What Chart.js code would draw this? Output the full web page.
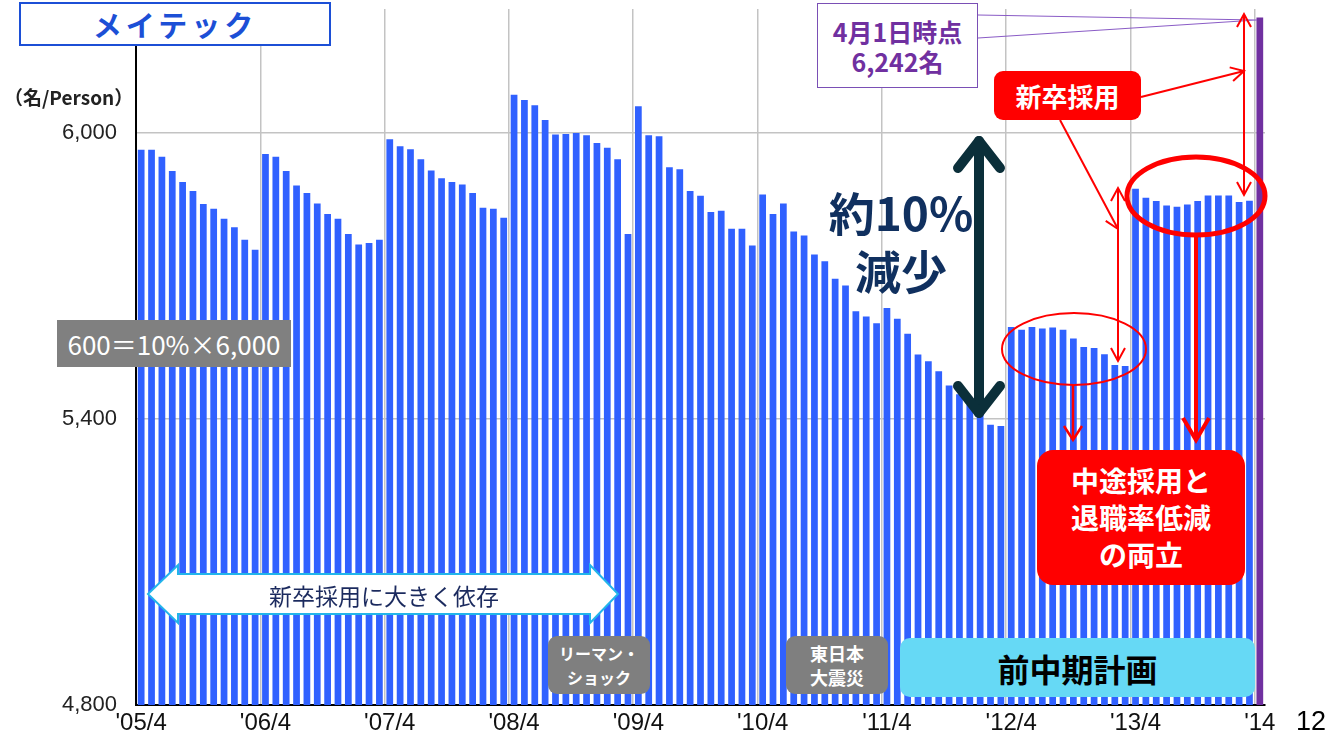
<!DOCTYPE html>
<html lang="ja">
<head>
<meta charset="utf-8">
<title>メイテック 社員数推移</title>
<script src="https://cdn.jsdelivr.net/npm/chart.js@4.4.1/dist/chart.umd.min.js"></script>
<style>
  body { margin: 0; background: #fff; }
  #wrap { position: relative; width: 1327px; height: 740px; overflow: hidden; font-family: "Noto Sans CJK JP", "Noto Sans", sans-serif; }
  #chart { position: absolute; left: 0; top: 0; }
  .note { position: absolute; box-sizing: border-box; display: flex; flex-direction: column; align-items: center; justify-content: center; text-align: center; white-space: nowrap; }
  #title { left: 19px; top: 2px; width: 312px; height: 44px; border: 2px solid #1c4fd6; background: #fff; color: #1c4fd6; font-weight: bold; font-size: 29px; letter-spacing: 4px; }
  #unit { left: 4px; top: 82px; height: 28px; font-size: 19px; font-weight: bold; color: #222; }
  #ratio { left: 57px; top: 320px; width: 234px; height: 47px; background: #808080; color: #fff; font-size: 26px; }
  #depend { left: 178px; top: 575px; width: 412px; height: 39px; color: #1b2a5e; font-size: 23px; }
  .grey { background: #7f7f7f; color: #fff; border-radius: 9px; font-weight: bold; line-height: 24px; }
  #lehman { left: 548px; top: 636px; width: 102px; height: 58px; font-size: 16px; }
  #quake { left: 786px; top: 636px; width: 102px; height: 58px; font-size: 18px; }
  #plan { left: 900px; top: 638px; width: 355px; height: 59px; background: #66d9f5; border-radius: 10px; font-size: 32px; font-weight: bold; color: #000; }
  #asof { left: 817px; top: 3px; width: 161px; height: 85px; border: 1.5px solid #7a4fb5; background: #fff; color: #7030a0; font-size: 25px; font-weight: bold; line-height: 30px; }
  #newgrad { left: 994px; top: 71px; width: 147px; height: 49px; background: #ff0000; border-radius: 9px; color: #fff; font-size: 26px; font-weight: bold; }
  #midcareer { left: 1037px; top: 450px; width: 208px; height: 135px; background: #ff0000; border-radius: 16px; color: #fff; font-size: 28px; font-weight: bold; line-height: 37px; }
  #cut { left: 826px; top: 182px; width: 150px; color: #10305f; font-size: 46px; font-weight: bold; line-height: 58px; }
  #page { left: 1296px; top: 706px; font-family: "Liberation Sans", sans-serif; font-size: 27px; color: #000; }
</style>
</head>
<body>
<div id="wrap">
  <canvas id="chart" width="1327" height="740"></canvas>
  <div class="note" id="title">メイテック</div>
  <div class="note" id="unit">（名/Person）</div>
  <div class="note" id="ratio">600＝10%×6,000</div>
  <div class="note" id="depend">新卒採用に大きく依存</div>
  <div class="note grey" id="lehman"><span>リーマン・</span><span>ショック</span></div>
  <div class="note grey" id="quake"><span>東日本</span><span>大震災</span></div>
  <div class="note" id="plan">前中期計画</div>
  <div class="note" id="asof"><span>4月1日時点</span><span>6,242名</span></div>
  <div class="note" id="newgrad">新卒採用</div>
  <div class="note" id="midcareer"><span>中途採用と</span><span>退職率低減</span><span>の両立</span></div>
  <div class="note" id="cut"><span>約10%</span><span>減少</span></div>
  <div class="note" id="page">12</div>
</div>
<script>
// Monthly headcount, April of each fiscal year through March
const fy2005 = [5965, 5965, 5950, 5920, 5897, 5878, 5851, 5841, 5820, 5802, 5776, 5755];
const fy2006 = [5956, 5950, 5920, 5890, 5874, 5852, 5830, 5820, 5788, 5766, 5769, 5776];
const fy2007 = [5987, 5972, 5966, 5945, 5921, 5905, 5897, 5892, 5874, 5843, 5841, 5822];
const fy2008 = [6080, 6069, 6058, 6027, 5997, 5998, 6000, 5995, 5979, 5969, 5945, 5788];
const fy2009 = [6056, 5995, 5993, 5928, 5924, 5878, 5868, 5834, 5837, 5799, 5799, 5764];
const fy2010 = [5871, 5830, 5852, 5793, 5785, 5745, 5731, 5694, 5680, 5626, 5615, 5601];
const fy2011 = [5633, 5610, 5579, 5535, 5521, 5500, 5470, 5452, 5430, 5410, 5388, 5385];
const fy2012 = [5593, 5587, 5593, 5590, 5592, 5587, 5569, 5551, 5549, 5536, 5513, 5511];
const fy2013 = [5883, 5864, 5857, 5848, 5845, 5850, 5857, 5869, 5869, 5869, 5855, 5858];
const fy2014 = [6242];

const years = [2005, 2006, 2007, 2008, 2009, 2010, 2011, 2012, 2013, 2014];
const tickLabels = ["'05/4", "'06/4", "'07/4", "'08/4", "'09/4", "'10/4", "'11/4", "'12/4", "'13/4", "'14"];
const yTicks = [4800, 5400, 6000];

const headcount = [].concat(fy2005, fy2006, fy2007, fy2008, fy2009, fy2010, fy2011, fy2012, fy2013, fy2014);

// one category per month, starting at April 2005
const months = [];
years.forEach(function(y) {
    for (let m = 0; m < 12; m++) {
        const mon = ((m + 3) % 12) + 1;
        const yr = m < 9 ? y : y + 1;
        months.push(yr + '/' + mon);
    }
});
months.length = headcount.length;

const BLUE = '#3061ff';
const PURPLE = '#7030a0';
const RED = '#ff0000';

function head(c, fx, fy, tx, ty, len, half, fill) {
    const a = Math.atan2(ty - fy, tx - fx);
    const bx = tx - len * Math.cos(a), by = ty - len * Math.sin(a);
    const px = -Math.sin(a) * half, py = Math.cos(a) * half;
    c.beginPath();
    c.moveTo(bx + px, by + py);
    c.lineTo(tx, ty);
    c.lineTo(bx - px, by - py);
    if (fill) { c.closePath(); c.fill(); } else { c.stroke(); }
}

function arrow(c, x1, y1, x2, y2, o) {
    c.save();
    c.strokeStyle = o.color;
    c.fillStyle = o.color;
    c.lineWidth = o.width;
    c.lineCap = o.cap || 'butt';
    c.lineJoin = o.cap === 'round' ? 'round' : 'miter';
    c.beginPath();
    c.moveTo(x1, y1);
    c.lineTo(x2, y2);
    c.stroke();
    head(c, x1, y1, x2, y2, o.len, o.half, o.fill);
    if (o.both) head(c, x2, y2, x1, y1, o.len, o.half, o.fill);
    c.restore();
}

function ellipse(c, cx, cy, rx, ry, w) {
    c.save();
    c.strokeStyle = RED;
    c.lineWidth = w;
    c.beginPath();
    c.ellipse(cx, cy, rx, ry, 0, 0, Math.PI * 2);
    c.stroke();
    c.restore();
}

// slide annotations drawn on top of the bars
const overlay = {
    id: 'overlay',
    afterDatasetsDraw: function(chart) {
        const c = chart.ctx;

        // white double arrow
        c.save();
        c.beginPath();
        c.moveTo(148, 594);
        c.lineTo(178, 565); c.lineTo(178, 574); c.lineTo(590, 574); c.lineTo(590, 565);
        c.lineTo(618, 594);
        c.lineTo(590, 623); c.lineTo(590, 614); c.lineTo(178, 614); c.lineTo(178, 623);
        c.closePath();
        c.fillStyle = '#fff';
        c.fill();
        c.strokeStyle = '#22b5ea';
        c.lineWidth = 2;
        c.stroke();
        c.restore();

        // 10% drop arrow
        arrow(c, 979, 141, 979, 413, { color: '#0b2f3a', width: 10, cap: 'round', len: 27, half: 21, both: true });

        // callout lines to the last bar
        c.save();
        c.strokeStyle = '#8a5cc6';
        c.lineWidth = 1.2;
        c.beginPath();
        c.moveTo(978, 15); c.lineTo(1257, 20);
        c.moveTo(978, 38); c.lineTo(1257, 20);
        c.stroke();
        c.restore();

        // red marks
        ellipse(c, 1074, 349, 72, 36, 2);
        ellipse(c, 1196, 196, 69, 39, 5);
        arrow(c, 1141, 97, 1244, 71, { color: RED, width: 2, len: 13, half: 7 });
        arrow(c, 1060, 120, 1118, 229, { color: RED, width: 2, len: 13, half: 7 });
        arrow(c, 1118, 188, 1118, 361, { color: RED, width: 2, len: 13, half: 7, both: true });
        arrow(c, 1244, 14, 1244, 195, { color: RED, width: 2, len: 13, half: 7, both: true });
        arrow(c, 1073, 385, 1073, 440, { color: RED, width: 2.5, len: 14, half: 9 });
        arrow(c, 1196, 234, 1196, 440, { color: RED, width: 4, len: 22, half: 13 });
    }
};

new Chart(document.getElementById('chart'), {
    type: 'bar',
    data: {
        labels: months,
        datasets: [{
            data: headcount,
            backgroundColor: function(ctx) {
                return ctx.dataIndex === headcount.length - 1 ? PURPLE : BLUE;
            },
            barPercentage: 0.65,
            categoryPercentage: 1
        }]
    },
    options: {
        responsive: false,
        animation: false,
        devicePixelRatio: 1,
        layout: { padding: { top: 9, right: 62, left: 0, bottom: 0 } },
        plugins: {
            legend: { display: false },
            tooltip: { enabled: false }
        },
        scales: {
            x: {
                offset: true,
                afterFit: function(scale) {
                    scale.height = 35;
                },
                grid: {
                    offset: true,
                    drawTicks: false,
                    color: function(ctx) {
                        return ctx.index % 12 === 0 ? '#c3c3c3' : 'rgba(0,0,0,0)';
                    },
                    lineWidth: 1.5
                },
                border: { color: '#000', width: 2 },
                ticks: {
                    autoSkip: false,
                    maxRotation: 0,
                    padding: 4,
                    color: '#111',
                    font: { family: 'Liberation Sans', size: 24 },
                    callback: function(val, i) {
                        return i % 12 === 0 ? tickLabels[i / 12] : '';
                    }
                }
            },
            y: {
                min: 4800,
                max: 6260,
                afterFit: function(scale) {
                    scale.width = 136;
                    scale.paddingTop = 0;
                    scale.paddingBottom = 0;
                },
                afterBuildTicks: function(axis) {
                    axis.ticks = yTicks.map(function(v) { return { value: v }; });
                },
                grid: { drawTicks: false, color: '#c3c3c3', lineWidth: 1.5 },
                border: { color: '#000', width: 2 },
                ticks: {
                    padding: 19,
                    color: '#222',
                    font: { family: 'Liberation Sans', size: 22 },
                    callback: function(v) { return v.toLocaleString('en-US'); }
                }
            }
        }
    },
    plugins: [overlay]
});
</script>
</body>
</html>
